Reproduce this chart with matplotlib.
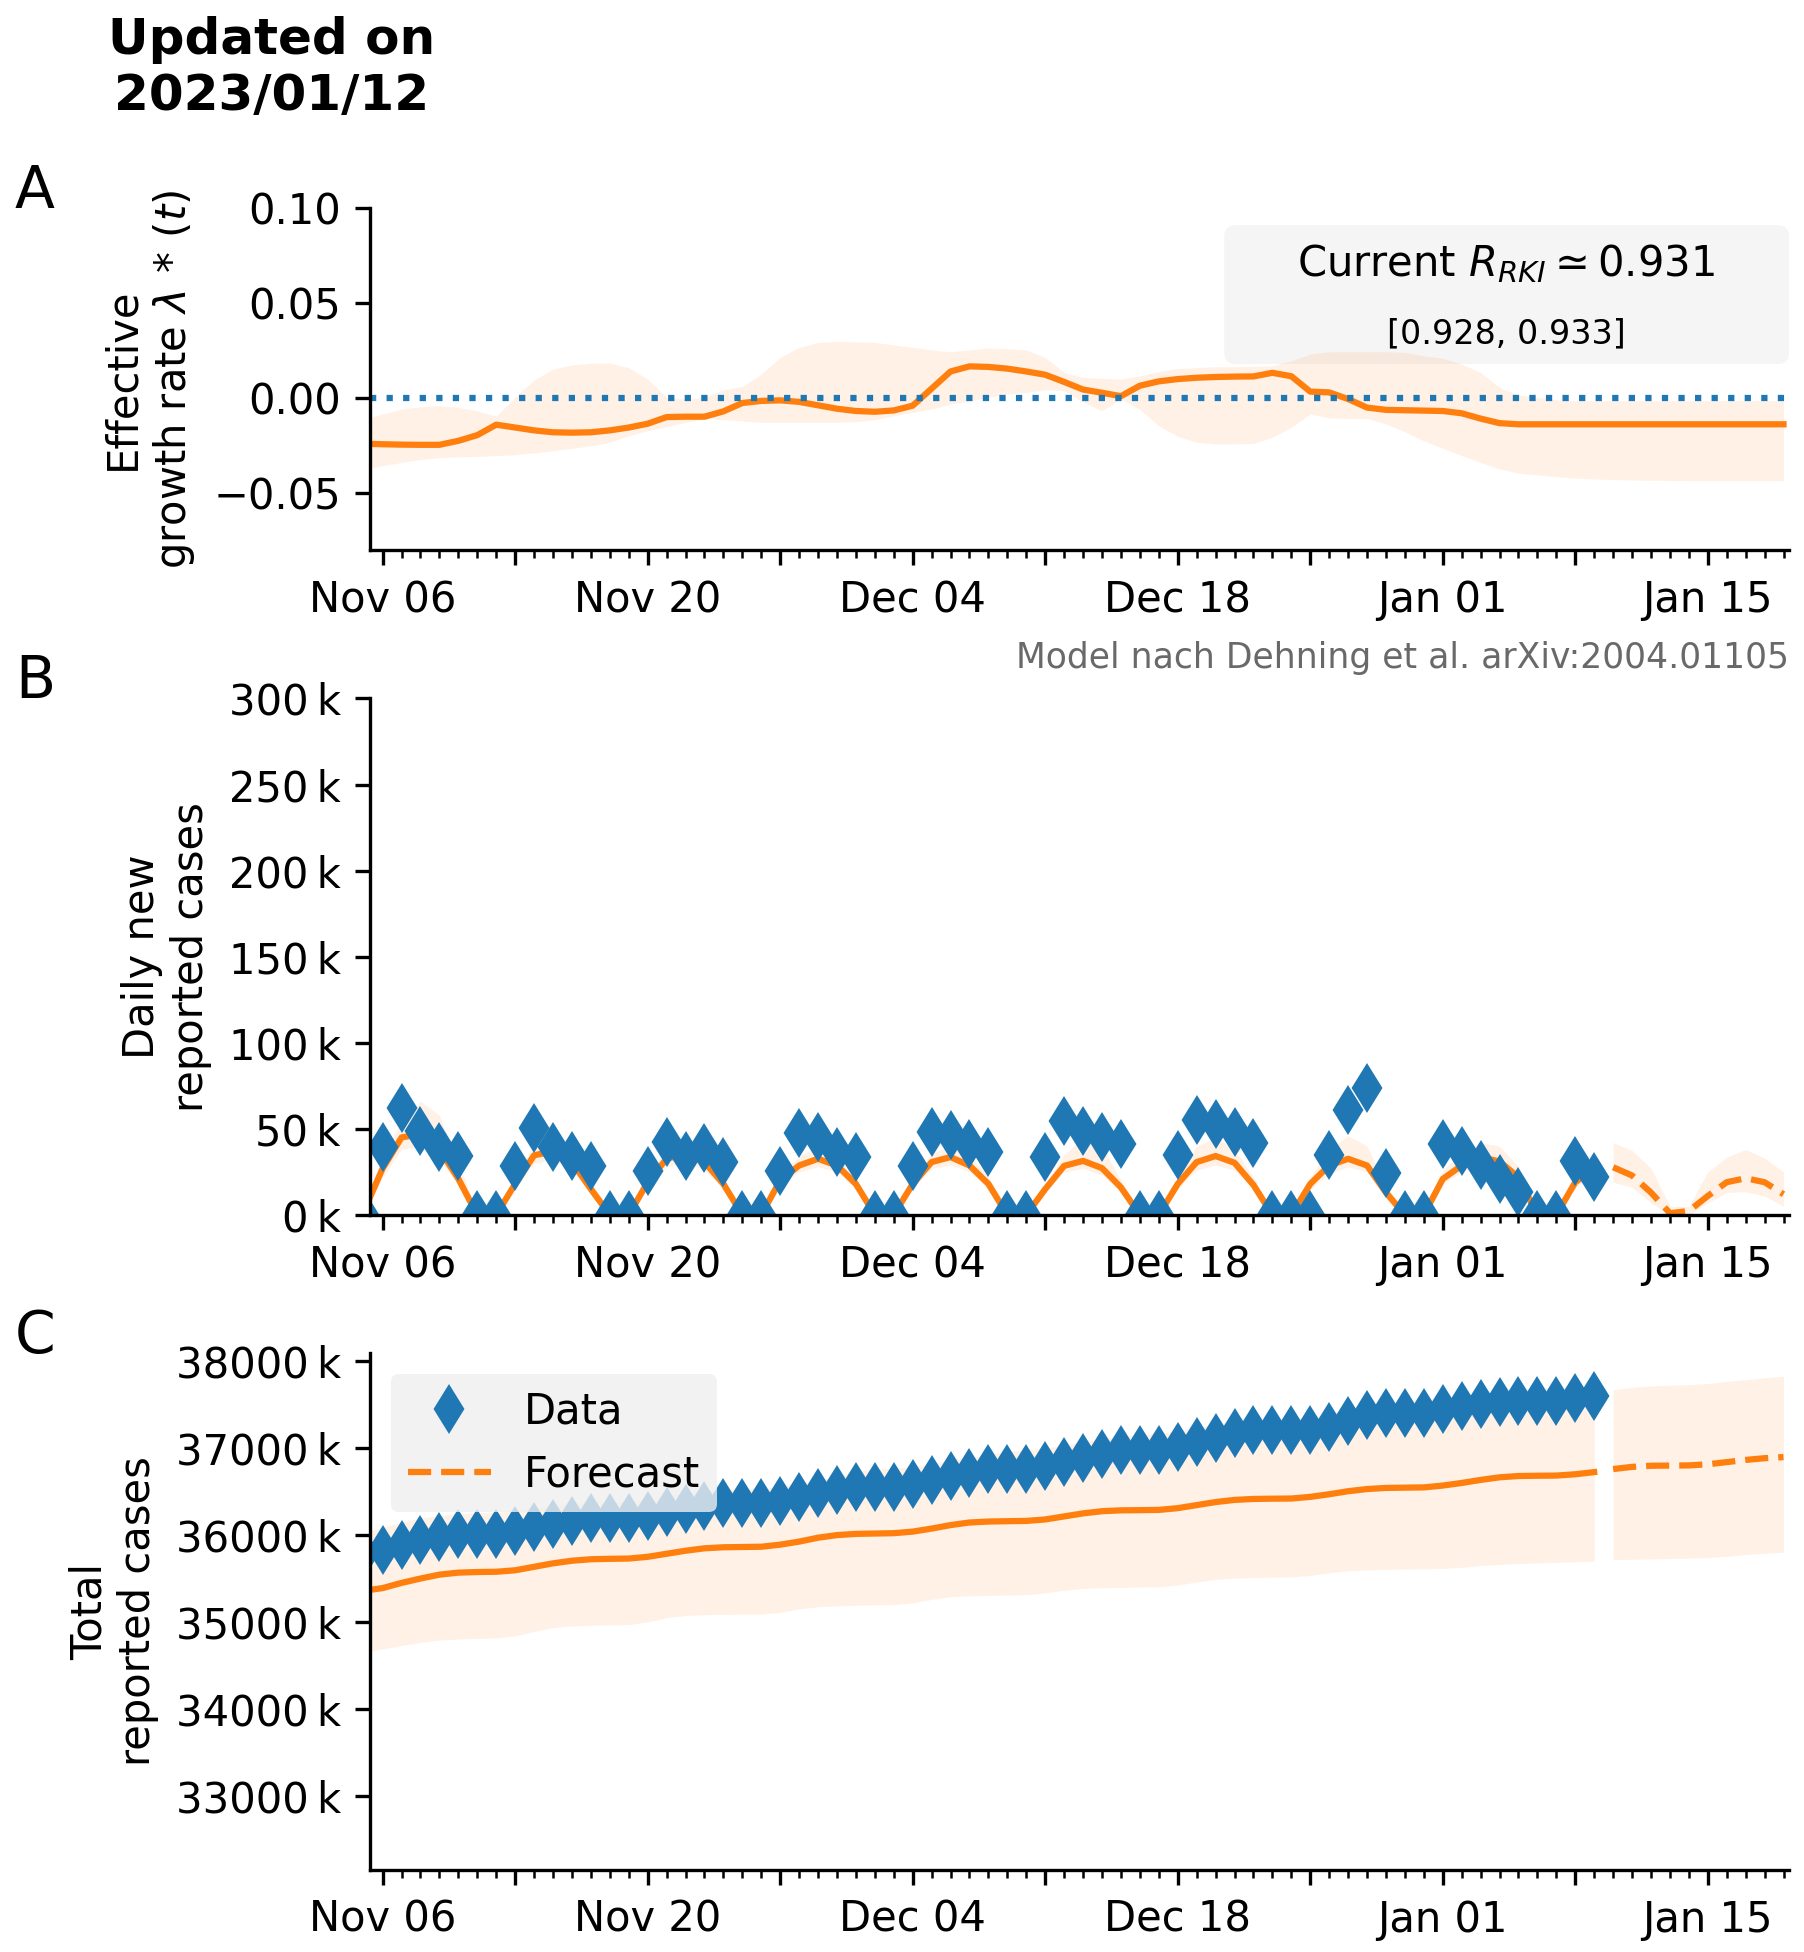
import matplotlib
matplotlib.use("Agg")
import matplotlib.pyplot as plt
import matplotlib.dates as mdates
import matplotlib.ticker as mticker
from matplotlib.patches import FancyBboxPatch
from matplotlib.lines import Line2D
import numpy as np
import pandas as pd

# ---------------------------------------------------------------- data
days_all = pd.date_range("2022-11-05", "2023-01-19")   # growth rate, 76 days
days_fit = pd.date_range("2022-11-05", "2023-01-09")   # data / fit, 66 days
days_fc = pd.date_range("2023-01-10", "2023-01-19")    # forecast, 10 days

# effective growth rate (x 1e-3)
lam_med = [-24, -24.3, -24.5, -24.6, -24.6, -22.5, -19.5, -14, -15.5, -17,
           -18, -18.2, -18, -17, -15.5, -13.5, -10, -9.8, -9.8, -7,
           -2.6, -1.5, -1.2, -2.0, -3.8, -5.6, -6.8, -7.2, -6.5, -4,
           5, 14, 16.7, 16.4, 15.5, 14, 12.3, 8.5, 4.5, 2.8,
           1.0, 6.5, 8.8, 10, 10.7, 11.1, 11.3, 11.4, 13.3, 11.5,
           3.4, 3.0, -0.5, -5, -6.2, -6.4, -6.6, -6.8, -8, -10.8,
           -13.2, -13.8, -13.8, -13.8, -13.8, -13.8, -13.8, -13.8, -13.8, -13.8,
           -13.8, -13.8, -13.8, -13.8, -13.8, -13.8]
lam_hi = [-11, -8.4, -5.8, -4.6, -4.0, -4.9, -6.7, -9.6, 0.5, 9.5,
          15.3, 17.4, 18.4, 18.4, 16, 10, 0.4, -0.5, 0.4, 4.4,
          6.1, 12.6, 21.4, 26.7, 29.3, 29.8, 29.6, 29.3, 28, 26.7,
          25.4, 24.4, 25.4, 26.3, 26, 25.4, 21.4, 13.5, 10.9, 10.5,
          10, 11.8, 14, 15.6, 16.1, 16.5, 16.5, 16.7, 17, 19.6,
          23.2, 24.4, 24.4, 24.4, 24.4, 24, 22.3, 20.9, 17.9, 13.5,
          5.6, 1.6, 0.4, -0.9, -1.4, -1.4, -1.4, -1.4, -1.4, -1.4,
          -1.4, -1.4, -1.4, -1.4, -1.4, -1.4]
lam_lo = [-37.4, -35.6, -33.9, -32.4, -31.4, -30.9, -30.7, -30.3, -29.8, -28.9,
          -27.7, -26.5, -25.1, -23.3, -19.8, -17.2, -15.1, -12.8, -10.7, -11.4,
          -12.1, -12.8, -12.8, -12.8, -12.8, -12.8, -12.5, -11.4, -9.3, -7.5,
          -5.8, -3.2, -1.4, 0.4, 2.1, 3.0, 4.4, 3.9, -2.0, -6.7,
          -0.5, -6.0, -14.6, -20.2, -23.3, -24.2, -24.2, -23.9, -20.7, -15.4,
          -8.4, -10.5, -10.7, -10.7, -13.7, -17.7, -22.5, -26.5, -30.3, -33.9,
          -37.4, -39.5, -40.5, -41.4, -42.1, -42.6, -42.9, -43.1, -43.3, -43.4,
          -43.5, -43.5, -43.5, -43.5, -43.5, -43.5]

# daily new reported cases (thousands)
new_data = [0, 39.5, 61.9, 48.6, 39.5, 34.2, 0, 0, 28.7, 50.6,
            39.5, 34.2, 28.3, 0, 0, 25.8, 42.4, 34.2, 38.9, 30.7,
            0, 0, 25.8, 47.7, 45.3, 36.5, 33.6, 0, 0, 28.3,
            47.9, 46.3, 41.4, 36.5, 0, 0, 33.6, 54.5, 48.6, 45.3,
            41.4, 0, 0, 34.6, 55.1, 53.1, 48.2, 42.0, 0, 0,
            0, 34.6, 60.9, 74.0, 24.4, 0, 0, 41.4, 36.9, 29.1,
            20.9, 13.5, 0, 0, 31.1, 21.9]
new_model = [2, 27, 45, 47, 38, 21, 0, 0, 18, 34.6,
             37, 30.7, 15, 0, 0, 19, 32.6, 35.5, 30.7, 18,
             0, 0, 20, 28.7, 32.6, 28.7, 18, 0, 0, 18,
             30.7, 33.6, 28.7, 18, 0, 0, 15, 28.5, 31.4, 27.2,
             16, 0, 0, 18, 30.7, 34.2, 30.3, 17.4, 0, 0,
             18, 28.7, 32.6, 28.7, 13, 0, 0, 20.9, 28.7, 33.6,
             31, 21.9, 0, 0, 19, 27]
new_lo = [0, 22, 38, 40, 32, 17, 0, 0, 15, 30,
          32, 26, 12, 0, 0, 16, 28, 31, 26, 15,
          0, 0, 17, 25, 28, 25, 15, 0, 0, 15,
          27, 29, 25, 15, 0, 0, 13, 25, 27, 23,
          13, 0, 0, 15, 26, 29, 26, 15, 0, 0,
          15, 24, 28, 25, 11, 0, 0, 18, 25, 29,
          27, 18, 0, 0, 16, 23]
new_hi = [4, 33, 55, 66, 58, 30, 2, 2, 22, 41,
          45, 38, 20, 2, 2, 23, 38, 41, 36, 22,
          2, 2, 24, 34, 40, 36, 22, 2, 2, 22,
          36, 40, 35, 22, 2, 2, 18, 35, 45, 40,
          20, 2, 2, 22, 40, 45, 38, 22, 2, 2,
          22, 38, 46, 40, 17, 2, 2, 26, 36, 42,
          40, 28, 2, 2, 24, 32]
new_fc = [27.7, 22.9, 13, 1, 2.3, 11, 19, 21.3, 19, 12]
new_fc_lo = [19, 16, 7, 0, 0, 7, 13, 13.5, 11, 5]
new_fc_hi = [42, 37.5, 27, 5, 5, 25, 33.6, 38, 33, 25]

# total reported cases (thousands)
tot_data = [35790, 35830, 35891, 35940, 35979, 36013, 36013, 36013, 36042, 36093,
            36132, 36166, 36195, 36195, 36195, 36221, 36263, 36297, 36336, 36367,
            36367, 36367, 36393, 36441, 36486, 36522, 36556, 36556, 36556, 36584,
            36632, 36678, 36720, 36756, 36756, 36756, 36790, 36844, 36893, 36938,
            36979, 36979, 36979, 37014, 37069, 37122, 37170, 37212, 37212, 37212,
            37212, 37247, 37308, 37382, 37406, 37406, 37406, 37447, 37484, 37513,
            37534, 37548, 37548, 37548, 37579, 37601]
tot_model = [35360, 35390, 35450, 35500, 35545, 35568, 35575, 35578, 35595, 35635,
             35675, 35705, 35722, 35727, 35730, 35750, 35785, 35820, 35848, 35860,
             35863, 35866, 35890, 35925, 35970, 36000, 36014, 36018, 36022, 36040,
             36075, 36115, 36145, 36156, 36160, 36163, 36180, 36215, 36250, 36275,
             36285, 36287, 36290, 36310, 36345, 36380, 36405, 36416, 36419, 36421,
             36440, 36470, 36505, 36530, 36543, 36546, 36549, 36570, 36600, 36635,
             36665, 36680, 36683, 36685, 36700, 36725]
tot_lo = [34650, 34690, 34730, 34765, 34790, 34805, 34810, 34815, 34840, 34890,
          34935, 34955, 34963, 34966, 34970, 35000, 35050, 35075, 35085, 35088,
          35090, 35092, 35110, 35150, 35175, 35185, 35192, 35196, 35199, 35220,
          35260, 35290, 35300, 35305, 35310, 35315, 35335, 35365, 35385, 35393,
          35398, 35402, 35405, 35425, 35460, 35490, 35505, 35512, 35515, 35518,
          35535, 35565, 35590, 35600, 35605, 35608, 35611, 35615, 35630, 35650,
          35662, 35672, 35680, 35685, 35695, 35700]
tot_hi = [36030, 36090, 36150, 36195, 36225, 36245, 36255, 36262, 36280, 36310,
          36340, 36360, 36372, 36378, 36384, 36410, 36450, 36490, 36510, 36525,
          36530, 36535, 36560, 36600, 36625, 36680, 36740, 36760, 36770, 36785,
          36820, 36870, 36895, 36930, 36965, 36980, 37000, 37035, 37075, 37110,
          37140, 37160, 37170, 37200, 37240, 37280, 37310, 37325, 37330, 37335,
          37360, 37400, 37440, 37470, 37485, 37490, 37495, 37515, 37545, 37580,
          37610, 37625, 37630, 37635, 37650, 37670]
tot_fc = [36760, 36785, 36798, 36800, 36802, 36815, 36840, 36865, 36885, 36898]
tot_fc_lo = [35718, 35722, 35726, 35730, 35734, 35740, 35755, 35775, 35790, 35803]
tot_fc_hi = [37674, 37700, 37718, 37725, 37732, 37745, 37770, 37790, 37810, 37828]

r_now, r_lo, r_hi = 0.931, 0.928, 0.933

c_data = "tab:blue"
c_model = "tab:orange"
k = 1e3

# ---------------------------------------------------------------- figure
fig = plt.figure(figsize=(1804 / 300, 1952 / 300), dpi=300)
axA = fig.add_axes([0.2051, 0.7182, 0.7866, 0.1752])
axB = fig.add_axes([0.2051, 0.3776, 0.7866, 0.2646])
axC = fig.add_axes([0.2051, 0.0422, 0.7866, 0.2645])

start = pd.Timestamp("2022-11-06")


def date_label(x, pos):
    # label every second Sunday, starting Nov 06
    d = mdates.num2date(x).replace(tzinfo=None)
    if (pd.Timestamp(d).normalize() - start).days % 14 == 0:
        return d.strftime("%b %d")
    return ""


def k_label(v, pos):
    return f"{v / 1e3:.0f}\u2009k"


def rate_label(v, pos):
    return f"{v:.2f}".replace("-", "\u2212")


for ax in (axA, axB, axC):
    ax.spines["top"].set_visible(False)
    ax.spines["right"].set_visible(False)
    ax.set_xlim(pd.Timestamp("2022-11-05 08:00"), pd.Timestamp("2023-01-19 07:00"))
    ax.xaxis.set_major_locator(mdates.WeekdayLocator(byweekday=mdates.SU))
    ax.xaxis.set_minor_locator(mdates.DayLocator())
    ax.xaxis.set_major_formatter(mticker.FuncFormatter(date_label))

# A: growth rate
axA.fill_between(days_all, np.array(lam_lo) / 1e3, np.array(lam_hi) / 1e3,
                 color=c_model, alpha=0.1, lw=0)
axA.plot(days_all, np.array(lam_med) / 1e3, color=c_model, lw=1.5)
axA.axhline(0, ls=":", color=c_data, lw=1.5)
axA.set_ylim(-0.08, 0.10)
axA.yaxis.set_major_locator(mticker.MultipleLocator(0.05))
axA.yaxis.set_major_formatter(mticker.FuncFormatter(rate_label))
axA.set_ylabel("Effective\ngrowth rate $\\lambda\\,*\\,(t)$")

box = FancyBboxPatch((0.602, 0.544), 0.398, 0.406,
                     boxstyle="round,pad=0,rounding_size=0.008",
                     mutation_aspect=1419 / 342, transform=axA.transAxes,
                     fc="#f5f5f5", ec="none", zorder=0.5)
axA.add_patch(box)
axA.text(0.8006, 0.801, f"Current $R_{{RKI}} \\simeq {r_now:.3f}$",
         transform=axA.transAxes, ha="center", va="baseline", fontsize=10)
axA.text(0.8006, 0.6035, f"[{r_lo:.3f}, {r_hi:.3f}]",
         transform=axA.transAxes, ha="center", va="baseline", fontsize=8)

# B: daily new cases
axB.fill_between(days_fit, np.array(new_lo) * k, np.array(new_hi) * k,
                 color=c_model, alpha=0.1, lw=0)
axB.fill_between(days_fc, np.array(new_fc_lo) * k, np.array(new_fc_hi) * k,
                 color=c_model, alpha=0.1, lw=0)
axB.plot(days_fit, np.array(new_model) * k, color=c_model, lw=1.5)
axB.plot(days_fc, np.array(new_fc) * k, color=c_model, lw=1.5, ls="--")
axB.plot(days_fit, np.array(new_data) * k, "d", color=c_data, ms=7.2)
axB.set_ylim(0, 300e3)
axB.yaxis.set_major_locator(mticker.MultipleLocator(50e3))
axB.yaxis.set_major_formatter(mticker.FuncFormatter(k_label))
axB.set_ylabel("Daily new\nreported cases")

# C: total cases
axC.fill_between(days_fit, np.array(tot_lo) * k, np.array(tot_hi) * k,
                 color=c_model, alpha=0.1, lw=0)
axC.fill_between(days_fc, np.array(tot_fc_lo) * k, np.array(tot_fc_hi) * k,
                 color=c_model, alpha=0.1, lw=0)
axC.plot(days_fit, np.array(tot_model) * k, color=c_model, lw=1.5)
axC.plot(days_fc, np.array(tot_fc) * k, color=c_model, lw=1.5, ls="--")
axC.plot(days_fit, np.array(tot_data) * k, "d", color=c_data, ms=7.2)
axC.set_ylim(32150e3, 38092e3)
axC.yaxis.set_major_locator(mticker.MultipleLocator(1000e3))
axC.yaxis.set_major_formatter(mticker.FuncFormatter(k_label))
axC.set_ylabel("Total\nreported cases")

handles = [Line2D([], [], marker="d", ls="none", color=c_data, ms=7.2, label="Data"),
           Line2D([], [], ls="--", color=c_model, lw=1.5, label="Forecast")]
leg = axC.legend(handles=handles, loc="upper left", facecolor="#efefef",
                 edgecolor="none", framealpha=0.8)

# labels around the panels
for ax, letter in ((axA, "A"), (axB, "B"), (axC, "C")):
    ax.text(15 / 1804, ax.get_position().y1, letter, transform=fig.transFigure,
            fontsize=14, ha="left", va="baseline")

fig.text(0.9917, 1 - 668 / 1952, "Model nach Dehning et al. arXiv:2004.01105",
         fontsize=8.3, color="dimgray", ha="right", va="baseline")
fig.text(272 / 1804, 1 - 16 / 1952, "Updated on\n2023/01/12", fontsize=12,
         fontweight="bold", ha="center", va="top", multialignment="center")

fig.savefig("out.png", dpi=300)
